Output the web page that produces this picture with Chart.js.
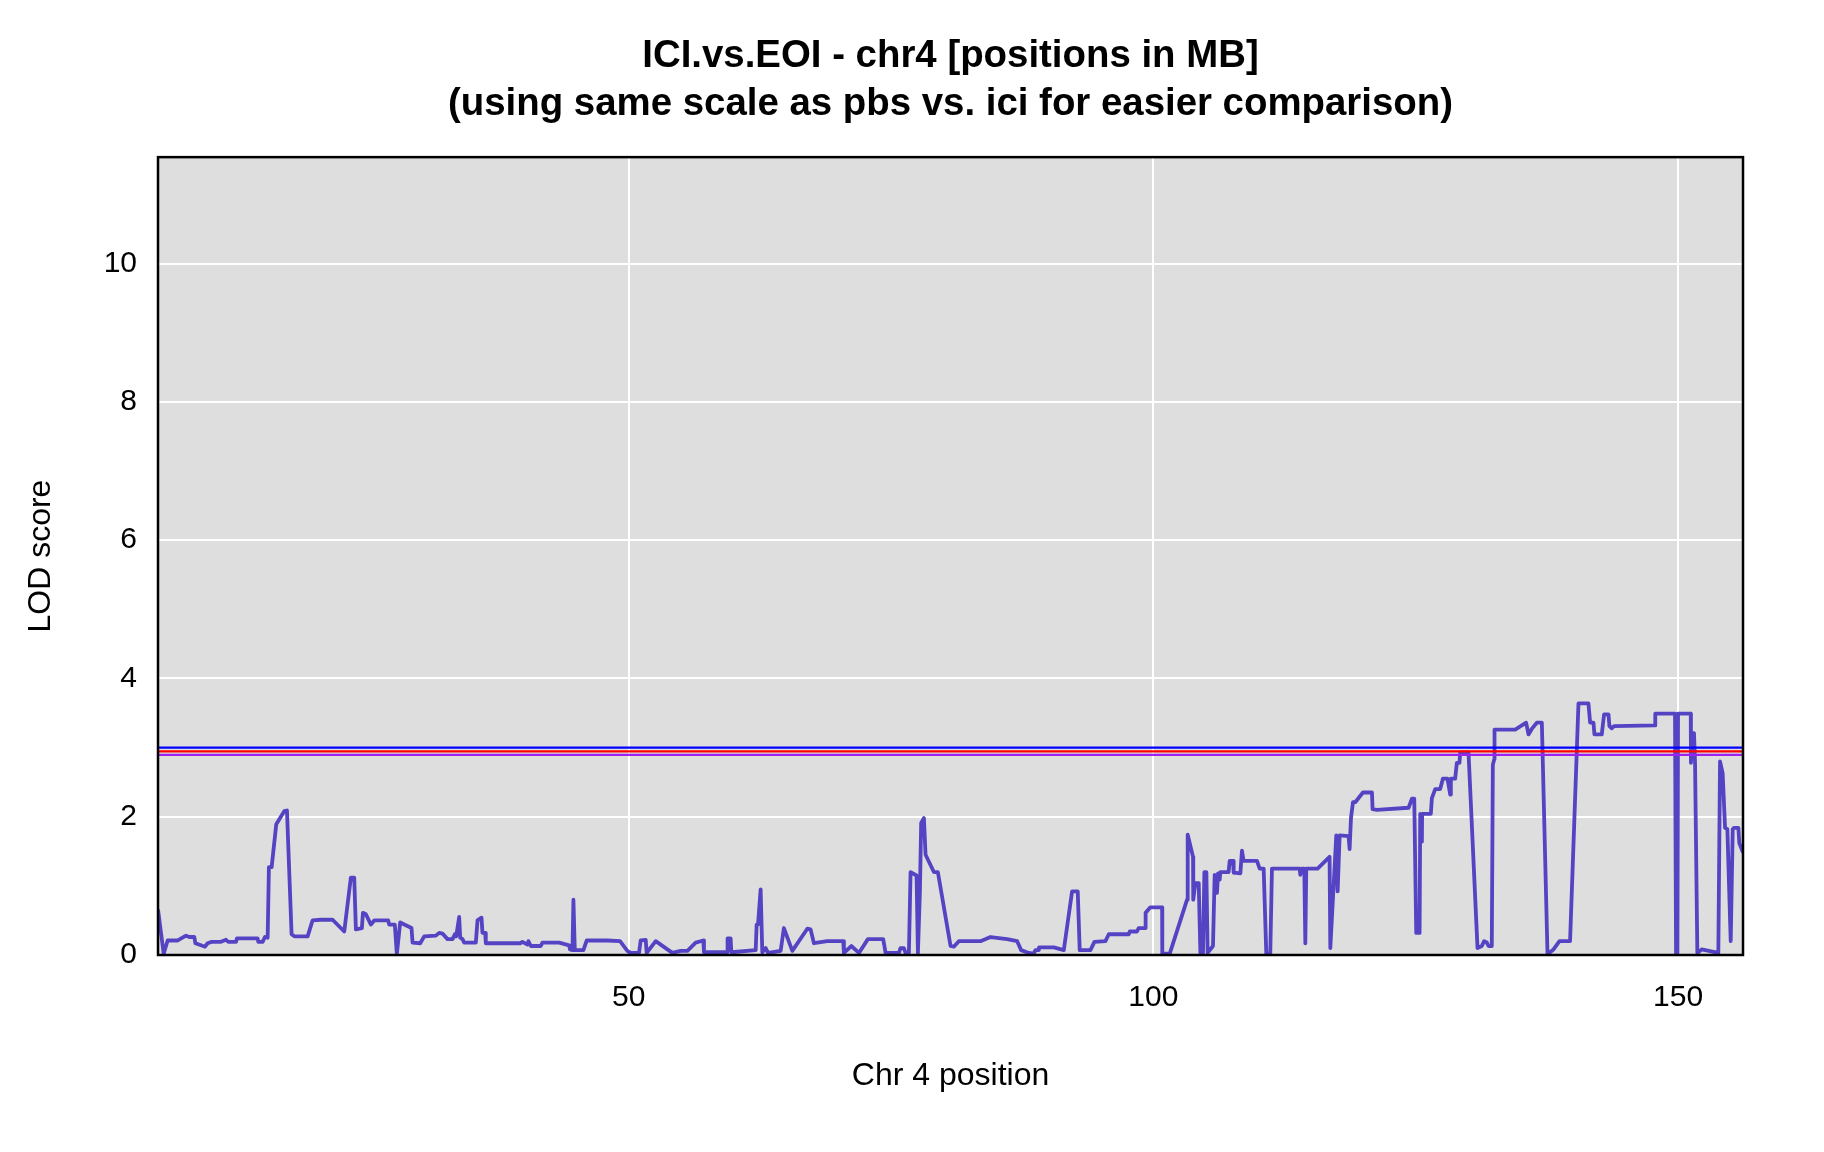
<!DOCTYPE html>
<html lang="en">
<head>
<meta charset="UTF-8">
<title>ICI.vs.EOI - chr4</title>
<script src="https://cdn.jsdelivr.net/npm/chart.js@4"></script>
<style>
  html, body { margin: 0; padding: 0; background: #fff; }
  canvas { display: block; }
</style>
</head>
<body>
<canvas id="lodChart" width="1824" height="1152"></canvas>
<script>
// marker positions on chr4 (MB) and LOD score at each
const positions = [
  5.14, 5.68, 6.06, 7.02, 7.81, 8.13, 8.60, 8.70, 9.24, 9.62, 9.87, 10.25, 11.14, 11.62, 11.84, 12.57,
  12.67, 14.63, 14.70, 15.11, 15.33, 15.59, 15.71, 15.97, 16.41, 17.17, 17.43, 17.87, 18.13, 19.40,
  19.87, 20.67, 21.78, 22.89, 23.52, 23.84, 24.00, 24.57, 24.67, 24.95, 25.43, 25.75, 27.08, 27.17,
  27.71, 27.90, 28.22, 28.76, 29.30, 29.40, 30.13, 30.51, 31.62, 31.94, 32.25, 32.73, 33.21, 33.43,
  33.56, 33.84, 33.94, 34.16, 34.32, 35.43, 35.59, 35.97, 36.06, 36.32, 36.38, 39.65, 39.87, 40.35,
  40.44, 40.67, 41.62, 41.78, 43.37, 44.32, 44.41, 44.64, 44.73, 44.86, 45.68, 46.00, 47.97, 49.17,
  49.87, 50.19, 50.98, 51.14, 51.62, 51.71, 52.57, 54.16, 54.95, 55.59, 56.38, 57.11, 57.17, 59.40,
  59.42, 59.71, 59.78, 62.10, 62.19, 62.32, 62.57, 62.73, 63.05, 63.27, 64.48, 64.79, 65.59, 67.02,
  67.33, 67.65, 68.92, 70.44, 70.51, 71.21, 71.94, 72.79, 74.25, 74.48, 75.75, 75.90, 76.22, 76.38,
  76.70, 76.86, 77.43, 77.56, 77.75, 77.87, 78.13, 78.29, 79.08, 79.46, 80.67, 80.98, 81.46, 83.52,
  84.48, 86.06, 87.02, 87.40, 88.13, 88.60, 88.76, 89.08, 89.10, 90.51, 91.46, 92.25, 92.79, 92.98,
  94.00, 94.38, 95.43, 95.75, 97.65, 97.75, 98.44, 98.60, 99.24, 99.26, 99.71, 100.83, 100.85, 101.56,
  103.21, 103.27, 103.78, 103.80, 104.00, 104.32, 104.48, 104.73, 104.86, 105.05, 105.17, 105.68, 105.84, 106.06,
  106.16, 106.32, 106.38, 107.17, 107.27, 107.59, 107.65, 108.29, 108.44, 108.60, 109.87, 110.13, 110.51, 110.76,
  111.14, 111.30, 113.94, 114.00, 114.16, 114.38, 114.48, 114.57, 115.65, 116.79, 116.86, 117.43, 117.56, 117.75,
  118.60, 118.70, 118.83, 119.02, 119.24, 119.97, 120.83, 120.89, 121.30, 124.32, 124.64, 124.86, 125.05, 125.37,
  125.43, 125.59, 125.61, 126.44, 126.54, 126.86, 127.33, 127.59, 128.03, 128.29, 128.35, 128.76, 128.92, 129.17,
  129.24, 130.03, 130.89, 131.30, 131.52, 131.78, 131.94, 132.25, 132.35, 132.48, 132.51, 134.48, 135.52, 135.75,
  136.06, 136.54, 137.02, 137.56, 138.13, 138.70, 139.71, 140.51, 141.46, 141.62, 141.94, 142.03, 142.73, 142.95,
  143.37, 143.46, 143.68, 143.90, 147.81, 147.83, 149.71, 149.81, 149.94, 150.00, 151.21, 151.23, 151.40, 151.52,
  151.62, 151.84, 152.25, 153.84, 154.00, 154.25, 154.48, 154.70, 155.02, 155.21, 155.33, 155.75, 155.84, 156.19
];
const lodScores = [
  0.66, 0.02, 0.21, 0.21, 0.28, 0.26, 0.26, 0.17, 0.14, 0.12, 0.17, 0.19, 0.19, 0.22, 0.19, 0.19,
  0.24, 0.24, 0.19, 0.19, 0.26, 0.25, 1.27, 1.27, 1.89, 2.08, 2.09, 0.30, 0.27, 0.27,
  0.50, 0.51, 0.51, 0.34, 1.12, 1.12, 0.37, 0.39, 0.61, 0.59, 0.44, 0.50, 0.50, 0.44,
  0.44, 0.01, 0.47, 0.43, 0.39, 0.18, 0.17, 0.27, 0.28, 0.32, 0.31, 0.23, 0.23, 0.30,
  0.27, 0.55, 0.25, 0.23, 0.18, 0.18, 0.50, 0.54, 0.32, 0.32, 0.17, 0.17, 0.19, 0.15,
  0.20, 0.13, 0.13, 0.18, 0.18, 0.14, 0.08, 0.07, 0.80, 0.07, 0.07, 0.21, 0.21, 0.20,
  0.06, 0.03, 0.03, 0.21, 0.22, 0.03, 0.20, 0.03, 0.06, 0.06, 0.18, 0.21, 0.04, 0.04,
  0.24, 0.24, 0.04, 0.07, 0.44, 0.44, 0.95, 0.04, 0.10, 0.03, 0.06, 0.39, 0.06, 0.38,
  0.37, 0.17, 0.20, 0.20, 0.03, 0.13, 0.03, 0.23, 0.23, 0.03, 0.03, 0.10, 0.10, 0.03,
  0.03, 1.20, 1.15, 0.03, 0.92, 1.91, 1.98, 1.45, 1.20, 1.20, 0.13, 0.12, 0.20, 0.20,
  0.26, 0.23, 0.20, 0.07, 0.03, 0.02, 0.07, 0.07, 0.11, 0.11, 0.07, 0.92, 0.92, 0.07,
  0.07, 0.19, 0.20, 0.30, 0.30, 0.34, 0.34, 0.39, 0.39, 0.61, 0.69, 0.69, 0.02, 0.02,
  0.80, 1.74, 1.42, 0.80, 1.04, 1.04, 0.03, 0.03, 1.20, 1.20, 0.03, 0.13, 1.16, 0.90,
  1.18, 1.09, 1.20, 1.20, 1.36, 1.36, 1.19, 1.18, 1.51, 1.36, 1.36, 1.25, 1.25, 0.02,
  0.02, 1.25, 1.25, 1.16, 1.25, 1.25, 0.17, 1.25, 1.25, 1.42, 0.10, 1.73, 0.92, 1.73,
  1.72, 1.53, 1.98, 2.21, 2.21, 2.35, 2.35, 2.11, 2.10, 2.13, 2.26, 2.26, 0.32, 0.32,
  2.04, 1.64, 2.04, 2.04, 2.27, 2.40, 2.40, 2.55, 2.55, 2.32, 2.55, 2.55, 2.78, 2.78,
  2.93, 2.93, 0.10, 0.13, 0.20, 0.18, 0.13, 0.13, 2.75, 2.83, 3.26, 3.26, 3.36, 3.19,
  3.27, 3.36, 3.36, 0.01, 0.08, 0.20, 0.20, 3.64, 3.64, 3.36, 3.36, 3.19, 3.19, 3.48,
  3.48, 3.31, 3.28, 3.31, 3.32, 3.49, 3.49, 0.01, 0.01, 3.49, 3.49, 2.78, 3.21, 3.21,
  2.78, 0.03, 0.08, 0.03, 2.80, 2.63, 1.84, 1.82, 0.20, 1.82, 1.84, 1.84, 1.62, 1.48
];

// significance thresholds (blue, red, purple)
const thresholds = [3.00, 2.945, 2.895];

const xTicks = [50, 100, 150];
const yTicks = [0, 2, 4, 6, 8, 10];
const xRange = [5.14, 156.19];
const yRange = [0, 11.54];

const FONT = "'Liberation Sans', Arial, Helvetica, sans-serif";

// gray panel behind the grid and a black box around it
const plotFrame = {
  id: 'plotFrame',
  beforeDraw(chart) {
    const { ctx, chartArea: a } = chart;
    ctx.save();
    ctx.fillStyle = '#dedede';
    ctx.fillRect(a.left, a.top, a.width, a.height);
    ctx.restore();
  },
  afterDraw(chart) {
    const { ctx, chartArea: a } = chart;
    ctx.save();
    ctx.strokeStyle = '#000';
    ctx.lineWidth = 2.5;
    ctx.strokeRect(a.left, a.top, a.width, a.height);
    ctx.restore();
  }
};

function hLine(v) {
  return [{ x: xRange[0], y: v }, { x: xRange[1], y: v }];
}

const lodPoints = positions.map((p, i) => ({ x: p, y: lodScores[i] }));

new Chart(document.getElementById('lodChart'), {
  type: 'line',
  data: {
    datasets: [
      { data: hLine(thresholds[0]), borderColor: '#0000ff', borderWidth: 2.4 },
      { data: hLine(thresholds[1]), borderColor: '#ff0000', borderWidth: 2.4 },
      { data: hLine(thresholds[2]), borderColor: '#a020f0', borderWidth: 2.4 },
      { data: lodPoints, borderColor: 'rgb(84,68,196)', borderWidth: 3.8, borderJoinStyle: 'round' }
    ]
  },
  options: {
    responsive: false,
    devicePixelRatio: 1,
    animation: false,
    events: [],
    elements: { point: { radius: 0 }, line: { tension: 0 } },
    layout: { padding: { left: 0, right: 81, top: 0, bottom: 0 } },
    plugins: {
      legend: { display: false },
      tooltip: { enabled: false },
      title: {
        display: true,
        fullSize: false,
        text: ['ICI.vs.EOI - chr4 [positions in MB]',
               '(using same scale as pbs vs. ici for easier comparison)'],
        color: '#000',
        font: { family: FONT, size: 38.4, weight: 'bold', lineHeight: 1.27 },
        padding: { top: 31.6, bottom: 28 }
      }
    },
    scales: {
      x: {
        type: 'linear',
        min: xRange[0],
        max: xRange[1],
        afterBuildTicks: s => { s.ticks = xTicks.map(v => ({ value: v })); },
        afterFit: s => { s.height = 197; },
        grid: { color: '#ffffff', lineWidth: 2, drawTicks: false },
        border: { display: false },
        ticks: { color: '#000', font: { family: FONT, size: 30 }, padding: 25, maxRotation: 0 },
        title: {
          display: true, text: 'Chr 4 position', color: '#000',
          font: { family: FONT, size: 32 }, padding: { top: 0, bottom: 57 }
        }
      },
      y: {
        type: 'linear',
        min: yRange[0],
        max: yRange[1],
        afterBuildTicks: s => { s.ticks = yTicks.map(v => ({ value: v })); },
        afterFit: s => { s.width = 158; },
        grid: { color: '#ffffff', lineWidth: 2, drawTicks: false },
        border: { display: false },
        ticks: { color: '#000', font: { family: FONT, size: 30 }, padding: 21 },
        title: {
          display: true, text: 'LOD score', color: '#000',
          font: { family: FONT, size: 32 }, padding: { top: 22, bottom: 0 }
        }
      }
    }
  },
  plugins: [plotFrame]
});
</script>
</body>
</html>
